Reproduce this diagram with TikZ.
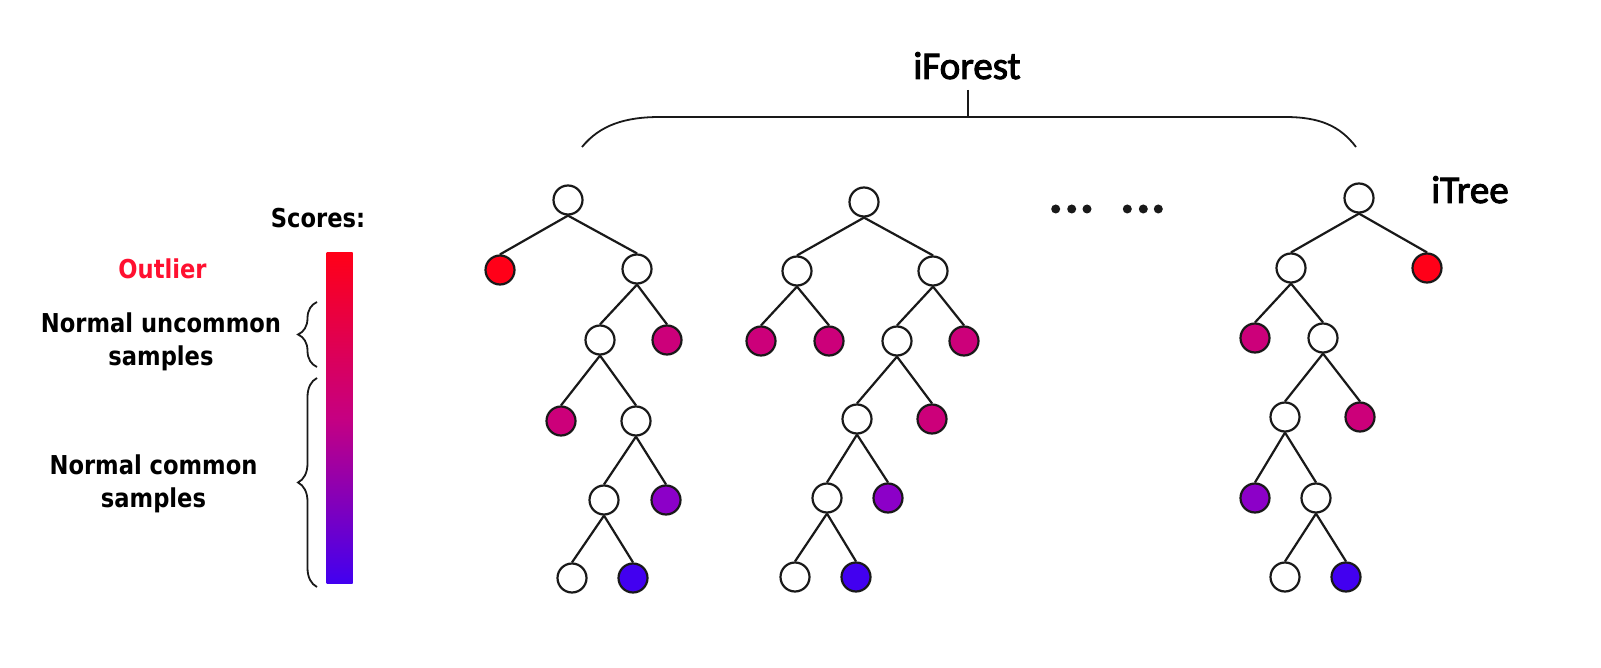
\documentclass[tikz,border=0pt]{standalone}
\usepackage{fontspec}
\usetikzlibrary{decorations.pathreplacing}
\newfontfamily\calfont[FakeBold=2.5]{Carlito}
\newfontfamily\labfont[FakeStretch=0.87]{DejaVu Sans}
\definecolor{inkc}{RGB}{25,25,25}
\definecolor{scorered}{RGB}{255,0,24}
\definecolor{scoremag}{RGB}{204,0,122}
\definecolor{scorepur}{RGB}{140,0,200}
\definecolor{scoreblue}{RGB}{66,0,240}
\definecolor{outred}{RGB}{255,16,48}
\tikzset{
  tn/.style={circle, draw=inkc, line width=2.2pt, minimum size=29pt, inner sep=0pt},
  wn/.style={tn, fill=white},
  rn/.style={tn, fill=scorered},
  mn/.style={tn, fill=scoremag},
  pn/.style={tn, fill=scorepur},
  bn/.style={tn, fill=scoreblue},
  edge/.style={draw=inkc, line width=2.2pt},
  lab/.style={font=\labfont\bfseries\fontsize{26}{33}\selectfont, inner sep=0pt, align=center},
  title/.style={font=\calfont\fontsize{39}{44}\selectfont, inner sep=0pt},
  bracket/.style={draw=inkc, line width=1.8pt},
  dotmark/.style={circle, fill=inkc, inner sep=0pt, minimum size=9pt}
}
\begin{document}
\begin{tikzpicture}[x=1pt, y=-1pt]
\useasboundingbox[fill=white] (0,0) rectangle (1601,668);

% score legend
\node[lab, anchor=base] (scores) at (318,228) {Scores:};
\node[lab, anchor=base, text=outred] (outlier) at (162.5,279) {Outlier};
\node[lab] (uncommon) at (161,342) {Normal uncommon\\samples};
\node[lab] (common) at (153.5,484) {Normal common\\samples};
\shade[top color=scorered, bottom color=scoreblue, middle color=scoremag!90!scorepur]
  (326.5,253) rectangle (352.5,583);
\coordinate (ub1) at (317,367);
\coordinate (ub2) at (317,302);
\coordinate (lb1) at (317,587);
\coordinate (lb2) at (317,378);
\draw[bracket, decorate, decoration={brace, amplitude=19pt}] (ub1) -- (ub2);
\draw[bracket, decorate, decoration={brace, amplitude=19pt}] (lb1) -- (lb2);

% forest bracket
\node[title, anchor=base] (forest) at (967,79) {iForest};
\coordinate (fs) at (968,90);
\coordinate (fm) at (968,117);
\coordinate (fl) at (582,147);
\coordinate (fr) at (1356,147);
\draw[bracket] (fs) -- (fm);
\draw[bracket] (fl) .. controls (600,125) and (625,117) .. (660,117)
  -- (1285,117) .. controls (1320,117) and (1340,126) .. (fr);
\node[title, anchor=base] (tree) at (1470,203) {iTree};

% ellipsis between trees
\foreach \i/\x in {1/1055.7,2/1071.7,3/1087,4/1127.3,5/1143.3,6/1158.3}
  \node[dotmark] (dot\i) at (\x,209) {};

% first tree
\node[wn] (a0) at (568,200) {};
\node[rn] (a1) at (500,270) {};
\node[wn] (a2) at (637,269) {};
\node[wn] (a3) at (600,340) {};
\node[mn] (a4) at (667,340) {};
\node[mn] (a5) at (561,421) {};
\node[wn] (a6) at (636,421) {};
\node[wn] (a7) at (604,500) {};
\node[pn] (a8) at (666,500) {};
\node[wn] (a9) at (572,578) {};
\node[bn] (a10) at (633,578) {};
\foreach \p/\c in {a0/a1,a0/a2,a2/a3,a2/a4,a3/a5,a3/a6,a6/a7,a6/a8,a7/a9,a7/a10}
  \draw[edge] (\p.south) -- (\c.north);

% second tree
\node[wn] (b0) at (864,202) {};
\node[wn] (b1) at (797,271) {};
\node[wn] (b2) at (933,271) {};
\node[mn] (b3) at (761,341) {};
\node[mn] (b4) at (829,341) {};
\node[wn] (b5) at (897,341) {};
\node[mn] (b6) at (964,341) {};
\node[wn] (b7) at (857,419) {};
\node[mn] (b8) at (932,419) {};
\node[wn] (b9) at (827,498) {};
\node[pn] (b10) at (888,498) {};
\node[wn] (b11) at (795,577) {};
\node[bn] (b12) at (856,577) {};
\foreach \p/\c in {b0/b1,b0/b2,b1/b3,b1/b4,b2/b5,b2/b6,b5/b7,b5/b8,b7/b9,b7/b10,b9/b11,b9/b12}
  \draw[edge] (\p.south) -- (\c.north);

% last tree
\node[wn] (c0) at (1359,198) {};
\node[wn] (c1) at (1291,268) {};
\node[rn] (c2) at (1427,268) {};
\node[mn] (c3) at (1255,338) {};
\node[wn] (c4) at (1323,338) {};
\node[wn] (c5) at (1285,417) {};
\node[mn] (c6) at (1360,417) {};
\node[pn] (c7) at (1255,498) {};
\node[wn] (c8) at (1316,498) {};
\node[wn] (c9) at (1285,577) {};
\node[bn] (c10) at (1346,577) {};
\foreach \p/\c in {c0/c1,c0/c2,c1/c3,c1/c4,c4/c5,c4/c6,c5/c7,c5/c8,c8/c9,c8/c10}
  \draw[edge] (\p.south) -- (\c.north);
\end{tikzpicture}
\end{document}
